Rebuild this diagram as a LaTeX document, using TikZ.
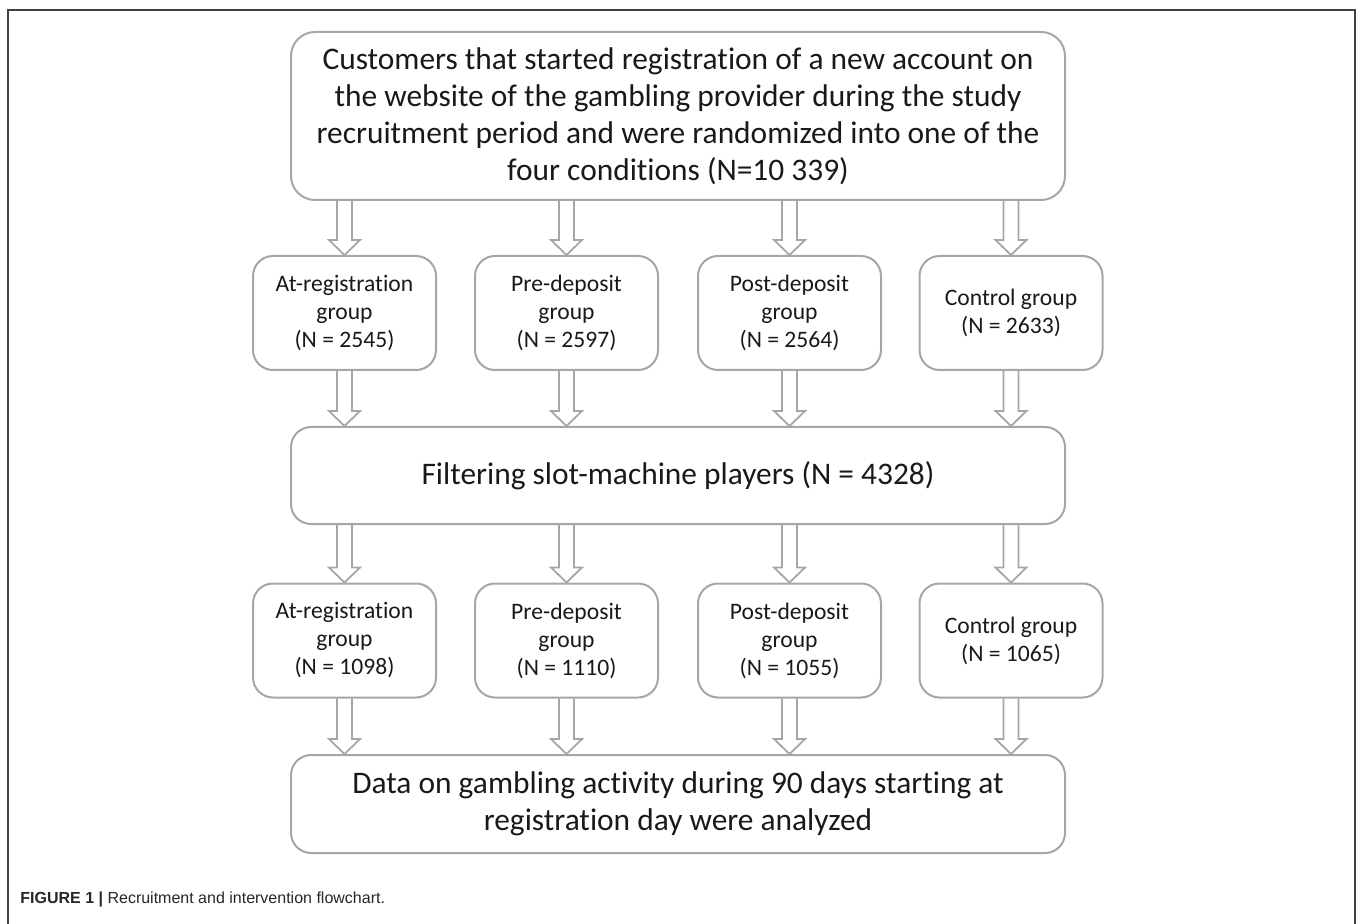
\documentclass[tikz,border=0pt]{standalone}
\usepackage{fontspec}
\setmainfont{Carlito}[Ligatures=NoCommon]
\newfontfamily\capfont{Liberation Sans}
\usetikzlibrary{calc}

\tikzset{
  box/.style={draw=black!35, line width=1pt, rounded corners=10pt, align=center, text=black!90},
  bigbox/.style={box, minimum width=387pt, font=\fontsize{15.7}{18.5}\selectfont},
  groupbox/.style={box, minimum width=91.5pt, minimum height=57pt, font=\fontsize{11.8}{14}\selectfont},
  arrowline/.style={draw=black!35, line width=0.9pt}
}

% hollow down arrow from one node to another
\newcommand{\hollowarrow}[2]{%
  \draw[arrowline] let \p1=(#1), \p2=(#2) in
    (\x1-3.75pt,\y1) -- (\x1-3.75pt,\y2+7.5pt) -- (\x1-7.75pt,\y2+7.5pt) -- (\x2,\y2)
    -- (\x1+7.75pt,\y2+7.5pt) -- (\x1+3.75pt,\y2+7.5pt) -- (\x1+3.75pt,\y1);}

\begin{document}
\begin{tikzpicture}[x=0.5pt,y=-0.5pt]
  \useasboundingbox (0,0) rectangle (1358,924);
  % frame
  \draw[black!75, line width=0.8pt] (8,924) -- (8,10) -- (1355,10) -- (1355,924);

  \node[bigbox, minimum height=84pt, rounded corners=12pt] (start) at (678,116)
    {Customers that started registration of a new account on\\
     the website of the gambling provider during the study\\
     recruitment period and were randomized into one of the\\
     four conditions (N=10 339)};

  \foreach \name/\x/\txt in {reg1/344.5/{At-registration\\group\\(N = 2545)},
                             pre1/566.5/{Pre-deposit\\group\\(N = 2597)},
                             post1/789.5/{Post-deposit\\group\\(N = 2564)},
                             ctrl1/1011/{Control group\\(N = 2633)}}
    \node[groupbox] (\name) at (\x,313) {\txt};

  \node[bigbox, minimum height=48.5pt] (filter) at (678,475.5)
    {Filtering slot-machine players (N = 4328)};

  \foreach \name/\x/\txt in {reg2/344.5/{At-registration\\group\\(N = 1098)},
                             pre2/566.5/{Pre-deposit\\group\\(N = 1110)},
                             post2/789.5/{Post-deposit\\group\\(N = 1055)},
                             ctrl2/1011/{Control group\\(N = 1065)}}
    \node[groupbox] (\name) at (\x,640.5) {\txt};

  \node[bigbox, minimum height=49pt] (data) at (678,804)
    {Data on gambling activity during 90 days starting at\\
     registration day were analyzed};

  % arrows
  \foreach \g in {reg,pre,post,ctrl} {
    \hollowarrow{start.south -| \g1}{\g1.north}
    \hollowarrow{\g1.south}{filter.north -| \g1}
    \hollowarrow{filter.south -| \g2}{\g2.north}
    \hollowarrow{\g2.south}{data.north -| \g2}
  }

  \node[anchor=base west, inner sep=0pt, text=black!85, font=\capfont\fontsize{8}{9.6}\selectfont] (caption) at (20,903)
    {\textbf{FIGURE 1 |} Recruitment and intervention flowchart.};
\end{tikzpicture}
\end{document}
